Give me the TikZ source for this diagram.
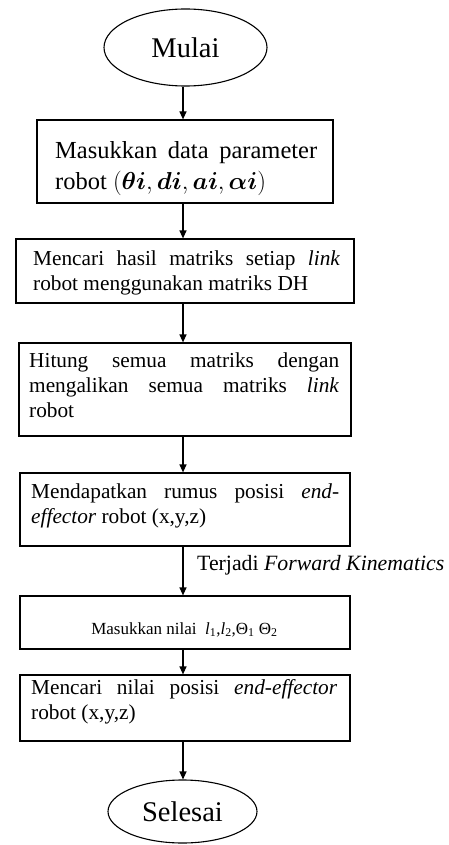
\RequirePackage{fix-cm}
\documentclass[tikz,border=0pt]{standalone}
\usepackage{fontspec}
\setmainfont{Liberation Serif}
\usepackage{amsmath,bm}
\usetikzlibrary{arrows.meta,shapes.geometric}

% one fully justified line of a box text
\newcommand{\jl}[1]{\makebox[\linewidth][s]{#1}}

\begin{document}
\begin{tikzpicture}[x=1pt,y=-1pt,
  every node/.style={inner sep=0pt},
  stepbox/.style={draw, line width=1.2pt, rectangle},
  term/.style={draw, line width=1.1pt, ellipse, font=\fontsize{28.5}{34}\selectfont},
  txt/.style={anchor=base west},
  bodyfont/.style={font=\fontsize{21.3}{25.3}\selectfont},
  arr/.style={line width=1.2pt, -{Triangle[length=8pt,width=7pt]}}]

\useasboundingbox (0,0) rectangle (448,845);
\coordinate (spine) at (183,0);

% start terminal
\node[term, minimum width=163pt, minimum height=77pt] (mulai) at (185.5,47.5) {Mulai};

% process boxes
\node[stepbox, minimum width=296pt, minimum height=83pt] (b1) at (185,161.5) {};
\node[txt, font=\fontsize{24.5}{31}\selectfont] (t1) at (55,159)
  {\parbox[t]{262pt}{\jl{Masukkan data parameter}\\
   robot $(\bm{\theta i}, \bm{d i}, \bm{a i}, \bm{\alpha i})$}};

\node[stepbox, minimum width=338pt, minimum height=64pt] (b2) at (185,271) {};
\node[txt, bodyfont] (t2) at (33,265)
  {\parbox[t]{307pt}{\jl{Mencari hasil matriks setiap \textit{link}}\\
   robot menggunakan matriks DH}};

\node[stepbox, minimum width=332pt, minimum height=93pt] (b3) at (185,389.5) {};
\node[txt, bodyfont] (t3) at (29,367)
  {\parbox[t]{310pt}{\jl{Hitung semua matriks dengan}\\
   \jl{mengalikan semua matriks \textit{link}}\\
   robot}};

\node[stepbox, minimum width=330pt, minimum height=73pt] (b4) at (185,509.5) {};
\node[txt, bodyfont] (t4) at (31,498)
  {\parbox[t]{308pt}{\jl{Mendapatkan rumus posisi \textit{end-}}\\
   \textit{effector} robot (x,y,z)}};

\node[stepbox, minimum width=330pt, minimum height=53pt] (b5) at (185,622.5) {};
\node[anchor=base, font=\fontsize{17}{20}\selectfont] (t5) at (184.5,634)
  {Masukkan nilai \ \textit{l}\textsubscript{1},\textit{l}\textsubscript{2},Θ\textsubscript{1} Θ\textsubscript{2}};

\node[stepbox, minimum width=330pt, minimum height=66pt] (b6) at (185,708) {};
\node[txt, bodyfont] (t6) at (31,694)
  {\parbox[t]{306pt}{\jl{Mencari nilai posisi \textit{end-effector}}\\
   robot (x,y,z)}};

% end terminal
\node[term, minimum width=149pt, minimum height=63pt] (selesai) at (182.5,811.5) {Selesai};

% flow
\draw[arr] (mulai.south -| spine) -- (b1.north -| spine);
\draw[arr] (b1.south -| spine) -- (b2.north -| spine);
\draw[arr] (b2.south -| spine) -- (b3.north -| spine);
\draw[arr] (b3.south -| spine) -- (b4.north -| spine);
\draw[arr] (b4.south -| spine) -- (b5.north -| spine);
\draw[arr] (b5.south -| spine) -- (b6.north -| spine);
\draw[arr] (b6.south -| spine) -- (selesai.north -| spine);

\node[txt, font=\fontsize{21.8}{26}\selectfont] (fk) at (197,570)
  {Terjadi \textit{Forward Kinematics}};
\end{tikzpicture}
\end{document}
